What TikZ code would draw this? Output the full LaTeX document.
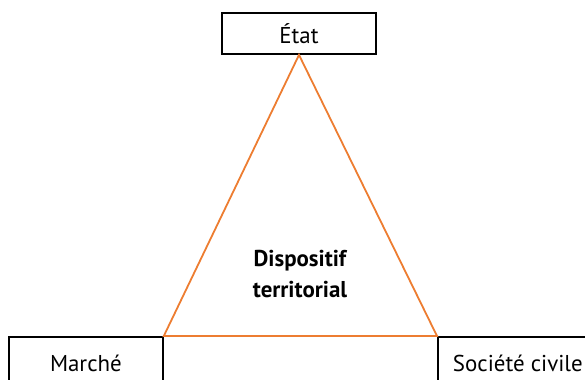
\documentclass[tikz,border=0pt]{standalone}
\usepackage{fontspec}
\setmainfont{PT Sans}
\definecolor{triorange}{RGB}{237,125,49}
\begin{document}
\begin{tikzpicture}[x=1bp,y=-1bp,
  box/.style={draw=black, line width=1.8bp, inner sep=0pt, font=\fontsize{23}{26}\selectfont},
  tri/.style={draw=triorange, line width=1.8bp, line join=miter}]
\useasboundingbox (0,0) rectangle (585,379);
\clip (0,0) rectangle (585,379);
\node[box, minimum width=154bp, minimum height=41bp] (etat) at (299,33.5) {État};
\node[box, minimum width=154bp, minimum height=52bp, anchor=north west] (marche) at (8,336) {Marché};
\node[box, minimum width=160bp, minimum height=52bp, anchor=north west] (societe) at (437,336) {Société civile};
\draw[tri] (etat.south) -- (marche.north east) -- (societe.north west) -- cycle;
\node[align=center, font=\fontsize{23}{32}\selectfont\bfseries] (disp) at (300,274) {Dispositif\\territorial};
\end{tikzpicture}
\end{document}
